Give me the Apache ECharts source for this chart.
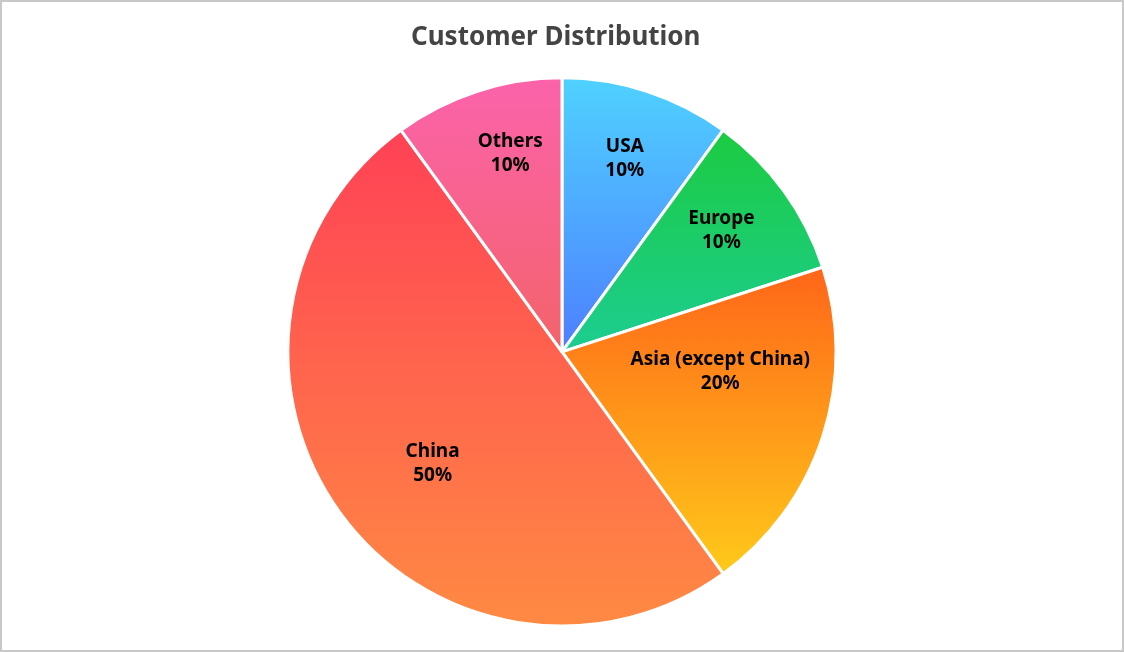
<!DOCTYPE html>
<html>
<head>
<meta charset="utf-8">
<style>
  html, body { margin: 0; padding: 0; background: #fff; }
  #chart { width: 1124px; height: 652px; box-sizing: border-box; border: 2px solid #c8c8c8; }
</style>
<script src="https://cdn.jsdelivr.net/npm/echarts@6/dist/echarts.min.js"></script>
</head>
<body>
<div id="chart"></div>
<script>
var regions = ['USA', 'Europe', 'Asia (except China)', 'China', 'Others'];
var shares = [10, 10, 20, 50, 10];

// top -> bottom gradient per slice
var sliceColors = {
  'USA': ['#4fd2ff', '#4d7eff'],
  'Europe': ['#1ccb40', '#1ccd92'],
  'Asia (except China)': ['#ff6519', '#ffca1a'],
  'China': ['#ff4156', '#ff8a43'],
  'Others': ['#fb63ab', '#f3636a']
};
// nudge a few labels the way the original had them
var labelShift = {
  'Asia (except China)': [-35, -43],
  'China': [35, -8],
  'Others': [11, -5],
  'Europe': [-5, -2]
};

var myChart = echarts.init(document.getElementById('chart'));

var pieData = regions.map(function (name, i) {
  var c = sliceColors[name];
  return {
    name: name,
    value: shares[i],
    itemStyle: {
      color: new echarts.graphic.LinearGradient(0, 0, 0, 1, [
        { offset: 0, color: c[0] },
        { offset: 1, color: c[1] }
      ])
    }
  };
});

var labelData = regions.map(function (name, i) {
  var item = { name: name, value: shares[i] };
  if (labelShift[name]) {
    item.label = { offset: labelShift[name] };
  }
  return item;
});

var option = {
  animation: false,
  title: {
    text: 'Customer Distribution',
    left: 404,
    top: 18,
    textStyle: {
      fontFamily: 'Noto Sans',
      fontSize: 26,
      fontWeight: 'bold',
      color: '#444'
    }
  },
  series: [{
    type: 'pie',
    center: ['50%', '54%'],
    radius: [0, '84.6%'],
    startAngle: 90,
    clockwise: true,
    silent: true,
    label: { show: false },
    labelLine: { show: false },
    itemStyle: { borderColor: '#fff', borderWidth: 3 },
    data: pieData
  }, {
    // transparent ring, only used to place labels further out
    type: 'pie',
    center: ['50%', '54%'],
    radius: ['39%', '84.6%'],
    startAngle: 90,
    clockwise: true,
    silent: true,
    itemStyle: { color: 'rgba(0,0,0,0)' },
    label: {
      show: true,
      position: 'inside',
      formatter: '{b}\n{d}%',
      fontFamily: 'Noto Sans',
      fontSize: 19,
      fontWeight: 'bold',
      lineHeight: 24,
      color: '#000'
    },
    labelLine: { show: false },
    data: labelData
  }]
};

myChart.setOption(option);
</script>
</body>
</html>
